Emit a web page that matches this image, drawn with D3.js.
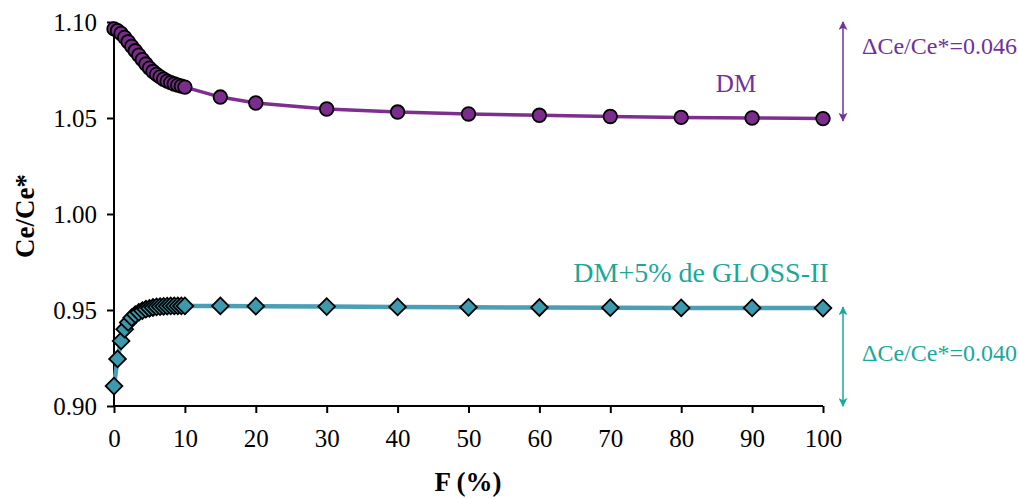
<!DOCTYPE html>
<html><head><meta charset="utf-8">
<script src="https://cdn.jsdelivr.net/npm/d3@7"></script>
<style>body{margin:0;background:#fff}svg{display:block}text{font-family:"Liberation Serif","Times New Roman",serif}</style>
</head><body><svg id="c" width="1018" height="499"></svg>
<script>
const fDense = [0,0.5,1,1.5,2,2.5,3,3.5,4,4.5,5,5.5,6,6.5,7,7.5,8,8.5,9,9.5,10];
const fWide = [15,20,30,40,50,60,70,80,90,100];
const fValues = fDense.concat(fWide);
const dmValues = [1.0964,1.0955,1.0940,1.0920,1.0897,1.0873,1.0850,1.0827,1.0804,1.0781,1.0760,1.0742,1.0727,1.0714,1.0702,1.0692,1.0684,1.0677,1.0671,1.0666,1.0661,
  1.0609,1.0578,1.0547,1.0531,1.0521,1.0514,1.0508,1.0503,1.0500,1.0497];
const glossValues = [0.9104,0.9245,0.9339,0.9400,0.9435,0.9460,0.9476,0.9488,0.9497,0.9504,0.9509,0.9513,0.9516,0.9518,0.9519,0.9520,0.9521,0.9521,0.9521,0.9521,0.9521,
  0.9521,0.9520,0.9518,0.9516,0.9514,0.9513,0.9512,0.9511,0.9511,0.9510];
const xTicks = [0,10,20,30,40,50,60,70,80,90,100];
const yTicks = [0.90,0.95,1.00,1.05,1.10];
const dmLabel = "DM";
const glossLabel = "DM+5% de GLOSS-II";
const dmDelta = "\u0394Ce/Ce*=0.046";
const glossDelta = "\u0394Ce/Ce*=0.040";

const svg = d3.select("#c");
const x = d3.scaleLinear().domain([0,100]).range([114,823]);
const y = d3.scaleLinear().domain([0.90,1.10]).range([406,22]);

const xAxis = svg.append("g").attr("transform","translate(0,406)")
  .call(d3.axisBottom(x).tickValues(xTicks).tickSize(7).tickPadding(16).tickFormat(d3.format("d")));
const yAxis = svg.append("g").attr("transform","translate(114,0)")
  .call(d3.axisLeft(y).tickValues(yTicks).tickSize(7).tickPadding(10).tickFormat(d3.format(".2f")));
[xAxis,yAxis].forEach(a=>{
  a.select(".domain").attr("stroke","#000").attr("stroke-width",2);
  a.selectAll(".tick line").attr("stroke","#000").attr("stroke-width",2);
  a.selectAll(".tick text").attr("fill","#000").style("font-size","25px").style("font-family","'Liberation Serif',serif");
});
xAxis.select(".domain").attr("d",`M${x(0)},0H${x(100)}`);
yAxis.select(".domain").attr("d",`M0,${y(0.90)}V${y(1.10)}`);

svg.append("text").attr("transform",`translate(34,216) rotate(-90)`).attr("text-anchor","middle")
  .style("font-size","27px").style("font-weight","bold").text("Ce/Ce*");
svg.append("text").attr("x",468).attr("y",491).attr("text-anchor","middle")
  .style("font-size","27px").style("font-weight","bold").text("F (%)");

const line = d3.line().x(d=>x(d[0])).y(d=>y(d[1]));
const dmData = fValues.map((f,i)=>[f,dmValues[i]]);
const glData = fValues.map((f,i)=>[f,glossValues[i]]);

svg.append("path").datum(glData).attr("d",line).attr("fill","none").attr("stroke","#4a9fb5").attr("stroke-width",4.5);
svg.append("path").datum(dmData).attr("d",line).attr("fill","none").attr("stroke","#7d2e8e").attr("stroke-width",3.5);

const dsym = d3.symbol().type(d3.symbolSquare).size(140);
svg.append("g").selectAll("path").data(glData).join("path")
  .attr("transform",d=>`translate(${x(d[0])},${y(d[1])}) rotate(45)`).attr("d",dsym)
  .attr("fill","#3c9aae").attr("stroke","#000").attr("stroke-width",1.8);
svg.append("g").selectAll("circle").data(dmData).join("circle")
  .attr("cx",d=>x(d[0])).attr("cy",d=>y(d[1])).attr("r",6.8)
  .attr("fill","#7b2c8c").attr("stroke","#000").attr("stroke-width",1.8);

svg.append("text").attr("x",736).attr("y",92).attr("text-anchor","middle").attr("fill","#7030a0")
  .style("font-size","25px").text(dmLabel);
svg.append("text").attr("x",701).attr("y",282).attr("text-anchor","middle").attr("fill","#1aa89b")
  .style("font-size","28px").text(glossLabel);

const defs = svg.append("defs");
function marker(id,color){
  defs.append("marker").attr("id",id).attr("viewBox","0 0 10 10").attr("refX",9).attr("refY",5)
    .attr("markerWidth",9).attr("markerHeight",9).attr("markerUnits","userSpaceOnUse").attr("orient","auto-start-reverse")
    .append("path").attr("d","M0,0L10,5L0,10L2.5,5Z").attr("fill",color);
}
marker("ap","#7030a0"); marker("at","#1aa89b");
svg.append("line").attr("x1",843).attr("x2",843).attr("y1",y(1.10)).attr("y2",y(1.0485))
  .attr("stroke","#7030a0").attr("stroke-width",1.5).attr("marker-start","url(#ap)").attr("marker-end","url(#ap)");
svg.append("line").attr("x1",843).attr("x2",843).attr("y1",y(0.9515)).attr("y2",y(0.90))
  .attr("stroke","#1aa89b").attr("stroke-width",1.5).attr("marker-start","url(#at)").attr("marker-end","url(#at)");
svg.append("text").attr("x",862).attr("y",54).attr("fill","#7030a0").style("font-size","24px").text(dmDelta);
svg.append("text").attr("x",862).attr("y",361).attr("fill","#1aa89b").style("font-size","24px").text(glossDelta);
</script></body></html>
